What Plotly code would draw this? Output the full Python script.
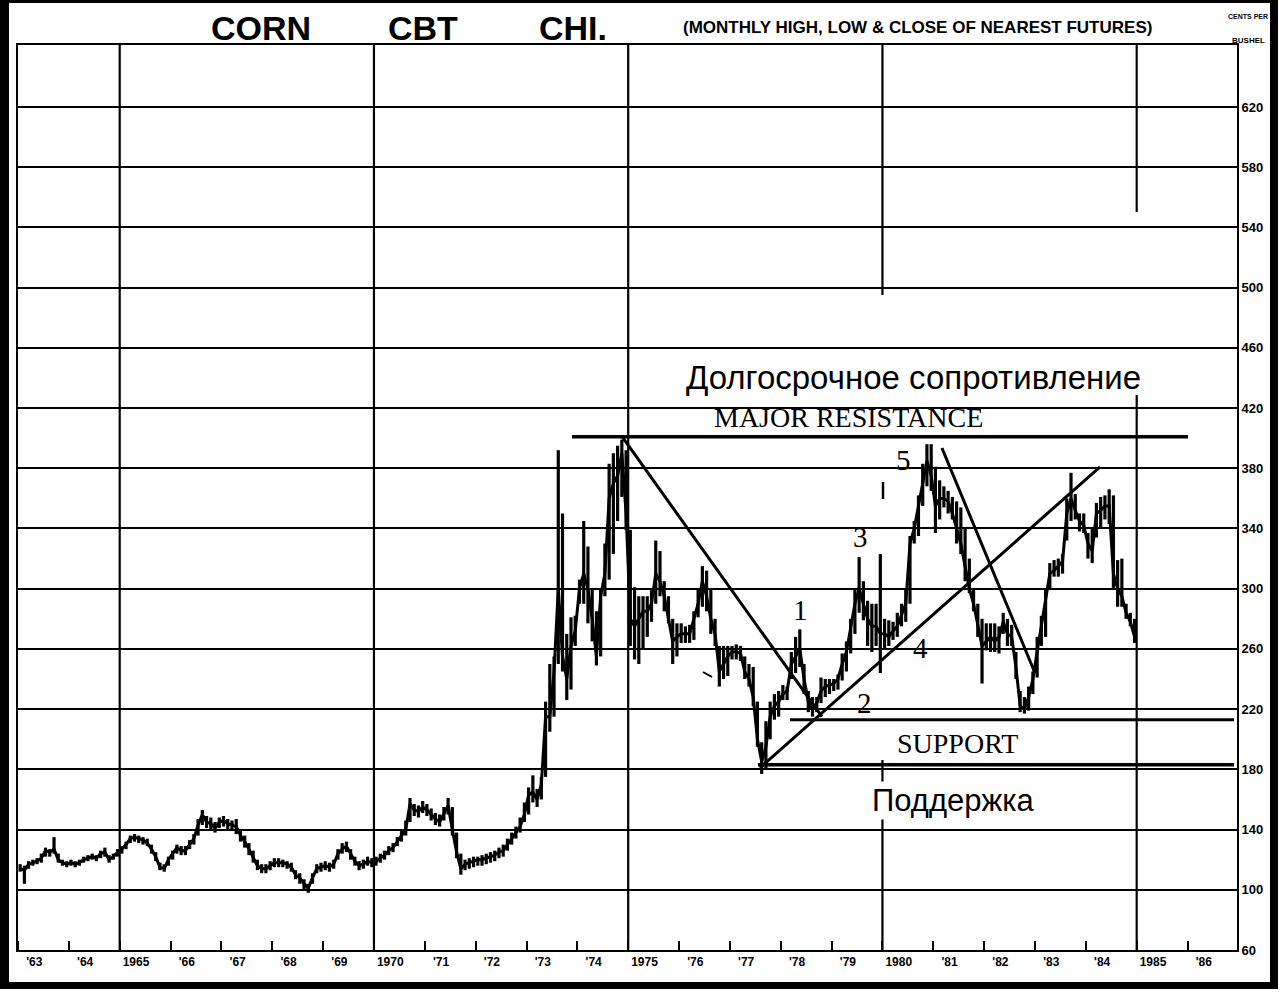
import plotly.graph_objects as go

# ---------------- data (monthly, Jan 1963 .. Dec 1984), cents per bushel -------------
START_YEAR = 1963
YEAR_LABELS = ["'63", "'64", "1965", "'66", "'67", "'68", "'69", "1970", "'71", "'72",
               "'73", "'74", "1975", "'76", "'77", "'78", "'79", "1980", "'81", "'82",
               "'83", "'84", "1985", "'86"]
PRICE_TICKS = [60, 100, 140, 180, 220, 260, 300, 340, 380, 420, 460, 500, 540, 580, 620]

LOW = [
    112, 104, 114, 116, 117, 118, 122, 122, 124, 118, 116, 115,   # 1963
    116, 115, 116, 118, 119, 120, 119, 121, 122, 118, 120, 122,   # 1964
    124, 127, 131, 132, 131, 130, 129, 124, 119, 113, 112, 116,   # 1965
    120, 124, 123, 123, 127, 130, 136, 143, 141, 140, 138, 141,   # 1966
    142, 140, 139, 137, 132, 128, 123, 118, 113, 111, 111, 113,   # 1967
    115, 115, 115, 114, 112, 107, 104, 100, 98, 104, 111, 112,    # 1968
    113, 112, 114, 120, 124, 125, 120, 116, 113, 114, 116, 115,   # 1969
    116, 118, 120, 123, 125, 129, 132, 136, 145, 149, 148, 151,   # 1970
    149, 146, 143, 142, 146, 150, 136, 121, 110, 113, 114, 115,   # 1971
    116, 116, 117, 118, 119, 121, 122, 126, 130, 134, 138, 145,   # 1972
    150, 158, 155, 160, 175, 205, 215, 250, 245, 226, 233, 262,   # 1973
    290, 290, 277, 265, 249, 255, 295, 306, 323, 345, 361, 339,   # 1974
    262, 253, 250, 260, 268, 278, 290, 295, 285, 277, 250, 255,   # 1975
    264, 264, 264, 266, 281, 288, 285, 270, 262, 235, 240, 242,   # 1976
    253, 253, 252, 240, 235, 222, 195, 177, 180, 200, 213, 215,   # 1977
    226, 226, 240, 244, 248, 230, 218, 215, 218, 224, 228, 230,   # 1978
    232, 233, 239, 245, 257, 270, 284, 279, 262, 258, 262, 244,   # 1979
    260, 262, 266, 268, 275, 278, 290, 330, 335, 355, 368, 365,   # 1980
    337, 346, 354, 350, 346, 330, 323, 305, 297, 285, 268, 237,   # 1981
    259, 258, 258, 257, 270, 262, 262, 240, 218, 217, 219, 230,   # 1982
    241, 262, 268, 300, 308, 308, 310, 332, 345, 346, 338, 337,   # 1983
    320, 317, 334, 340, 346, 343, 300, 288, 288, 280, 275, 264,   # 1984
]
HIGH = [
    117, 116, 119, 120, 121, 124, 128, 127, 135, 124, 120, 119,
    120, 119, 120, 122, 123, 124, 123, 126, 128, 123, 124, 127,
    129, 132, 136, 137, 136, 135, 134, 130, 125, 118, 117, 122,
    126, 130, 129, 129, 133, 137, 147, 153, 149, 148, 145, 148,
    149, 147, 146, 147, 140, 136, 131, 126, 120, 117, 117, 119,
    121, 121, 120, 119, 118, 113, 111, 107, 104, 111, 117, 118,
    119, 118, 120, 127, 131, 132, 127, 122, 119, 120, 122, 121,
    122, 124, 126, 129, 131, 135, 139, 146, 161, 157, 156, 159,
    157, 154, 151, 150, 155, 161, 155, 138, 124, 120, 121, 122,
    122, 123, 124, 125, 126, 128, 130, 134, 138, 142, 148, 158,
    168, 176, 167, 175, 225, 250, 255, 392, 350, 270, 281, 282,
    306, 345, 328, 300, 285, 300, 330, 383, 390, 395, 399, 392,
    339, 301, 295, 295, 295, 299, 332, 325, 305, 295, 280, 277,
    277, 275, 276, 285, 300, 315, 312, 300, 280, 262, 262, 262,
    262, 263, 262, 255, 250, 248, 225, 198, 212, 225, 230, 232,
    236, 235, 258, 268, 273, 250, 232, 228, 228, 241, 240, 240,
    240, 243, 257, 265, 280, 300, 321, 305, 292, 290, 290, 323,
    280, 279, 278, 284, 290, 300, 335, 345, 362, 383, 396, 396,
    381, 372, 368, 365, 361, 358, 354, 340, 320, 300, 290, 280,
    277, 277, 277, 275, 284, 280, 276, 258, 232, 228, 235, 245,
    268, 282, 300, 317, 319, 320, 323, 360, 377, 363, 350, 350,
    337, 340, 357, 361, 362, 366, 362, 319, 320, 290, 284, 280,
]
CLOSE = [
    114, 113, 117, 118, 119, 121, 126, 125, 127, 120, 118, 117,
    118, 117, 118, 120, 121, 122, 121, 124, 125, 120, 122, 125,
    127, 130, 134, 135, 134, 133, 131, 127, 122, 115, 114, 120,
    124, 128, 126, 126, 130, 134, 143, 150, 145, 144, 141, 145,
    146, 144, 143, 142, 136, 132, 127, 122, 116, 114, 114, 116,
    118, 118, 118, 117, 115, 110, 108, 104, 101, 108, 114, 115,
    116, 115, 117, 124, 127, 129, 124, 119, 116, 117, 119, 118,
    119, 121, 123, 126, 128, 132, 136, 140, 157, 153, 152, 155,
    153, 150, 147, 145, 150, 156, 140, 125, 114, 117, 118, 119,
    120, 120, 121, 122, 123, 125, 126, 130, 134, 138, 142, 150,
    163, 165, 160, 170, 215, 215, 245, 300, 255, 240, 262, 272,
    300, 310, 300, 280, 255, 295, 310, 360, 370, 375, 390, 350,
    280, 275, 280, 285, 285, 290, 310, 305, 295, 280, 265, 268,
    270, 270, 270, 280, 290, 305, 295, 280, 270, 245, 250, 255,
    258, 258, 257, 245, 240, 228, 200, 185, 195, 215, 222, 225,
    230, 232, 250, 255, 260, 240, 225, 220, 224, 232, 235, 236,
    237, 240, 250, 258, 275, 290, 300, 290, 280, 275, 275, 270,
    270, 268, 272, 275, 282, 290, 330, 340, 355, 370, 385, 375,
    355, 360, 360, 358, 350, 340, 330, 315, 300, 290, 275, 262,
    265, 268, 265, 268, 278, 270, 268, 248, 222, 220, 228, 240,
    258, 275, 290, 310, 312, 315, 318, 350, 360, 352, 345, 342,
    330, 325, 350, 352, 355, 355, 310, 300, 295, 284, 278, 268,
]

# chart annotation levels (cents) and trend lines ((year, cents) pairs)
RESISTANCE = 401
SUPPORT_UPPER = 213
SUPPORT_LOWER = 183
TREND_DOWN_1 = [(1974.88, 401), (1978.81, 215)]
TREND_DOWN_2 = [(1981.17, 393.5), (1983.0, 244)]
TREND_UP = [(1977.59, 181), (1984.28, 381)]
VGRID_YEARS = [1965, 1970, 1975, 1980, 1985]

# ---------------- layout geometry ----------------
W, H = 1286, 994
PL, PR, PT, PB = 18, 1237, 45, 950          # plot area in pixels
X_RANGE = [1963.0, 1963.0 + (PR - PL) / 50.85]
Y_RANGE = [60, 60 + (PB - PT) / 1.5054]


def px(x):
    return (x - PL) / (PR - PL)


def py(y):
    return (PB - y) / (PB - PT)


def t_of(x):
    return X_RANGE[0] + (x - PL) / (PR - PL) * (X_RANGE[1] - X_RANGE[0])


def v_of(y):
    return Y_RANGE[0] + (PB - y) / (PB - PT) * (Y_RANGE[1] - Y_RANGE[0])


months = [START_YEAR + (i + 0.5) / 12 for i in range(len(CLOSE))]
bx, by = [], []
for t, lo, hi in zip(months, LOW, HIGH):
    bx += [t, t, None]
    by += [lo, hi, None]

fig = go.Figure()
fig.add_trace(go.Scatter(x=bx, y=by, mode="lines", line=dict(color="black", width=3.2),
                         hoverinfo="skip", showlegend=False))
fig.add_trace(go.Scatter(x=months, y=CLOSE, mode="lines", line=dict(color="black", width=3),
                         showlegend=False))

shapes = []
# vertical gridlines (segments; some interrupted in original)
vgaps = {1980: [(PT, 295), (760, PB)], 1985: [(PT, 212), (395, PB)]}
for yr in VGRID_YEARS:
    segs = vgaps.get(yr, [(PT, PB)])
    for ya, yb in segs:
        shapes.append(dict(type="line", xref="x", yref="y", x0=yr, x1=yr, y0=v_of(yb), y1=v_of(ya),
                           line=dict(color="black", width=2.2), layer="below"))

# white patches interrupting horizontal gridlines (below traces)
for (xa, xb, ya, yb) in [(578, 1032, 398, 420), (860, 1098, 458, 478), (825, 892, 518, 538),
                         (880, 945, 638, 658), (840, 900, 698, 718)]:
    shapes.append(dict(type="rect", xref="paper", yref="paper", x0=px(xa), x1=px(xb),
                       y0=py(yb), y1=py(ya), fillcolor="white", line=dict(width=0), layer="between"))

# support / resistance / trend lines
shapes.append(dict(type="line", xref="x", yref="y", x0=t_of(572), x1=t_of(1188),
                   y0=RESISTANCE, y1=RESISTANCE, line=dict(color="black", width=3.5)))
shapes.append(dict(type="line", xref="x", yref="y", x0=t_of(790), x1=t_of(1234),
                   y0=SUPPORT_UPPER, y1=SUPPORT_UPPER, line=dict(color="black", width=3)))
shapes.append(dict(type="line", xref="x", yref="y", x0=t_of(758), x1=t_of(1234),
                   y0=SUPPORT_LOWER, y1=SUPPORT_LOWER, line=dict(color="black", width=3.5)))
for seg in (TREND_DOWN_1, TREND_DOWN_2, TREND_UP):
    shapes.append(dict(type="line", xref="x", yref="y", x0=seg[0][0], y0=seg[0][1],
                       x1=seg[1][0], y1=seg[1][1], line=dict(color="black", width=3)))
# small marks
shapes.append(dict(type="line", xref="paper", yref="paper", x0=px(883), x1=px(883),
                   y0=py(499), y1=py(482), line=dict(color="black", width=2.5)))
shapes.append(dict(type="line", xref="paper", yref="paper", x0=px(703), x1=px(712),
                   y0=py(672), y1=py(677), line=dict(color="black", width=2)))

# outer frame
frame = [(0, 9, 0, 989), (0, 1278, 982, 989), (1270, 1278, 0, 989), (0, 1278, 0, 3)]
for xa, xb, ya, yb in frame:
    shapes.append(dict(type="rect", xref="paper", yref="paper", x0=px(xa), x1=px(xb),
                       y0=py(yb), y1=py(ya), fillcolor="black", line=dict(width=0)))

NARROW = "Liberation Sans Narrow, Arial Narrow, Liberation Sans, sans-serif"
annotations = []


def txt(x, y, s, size, family, weight="normal", bg=None):
    a = dict(xref="paper", yref="paper", x=px(x), y=py(y), text=s, showarrow=False,
             xanchor="center", yanchor="middle",
             font=dict(size=size, family=family, color="black", weight=weight))
    if bg:
        a["bgcolor"] = bg
    annotations.append(a)


txt(261, 28, "CORN", 34, "Liberation Sans, Arial, sans-serif", "bold")
txt(423, 28, "CBT", 34, "Liberation Sans, Arial, sans-serif", "bold")
txt(573, 28, "CHI.", 34, "Liberation Sans, Arial, sans-serif", "bold")
txt(917, 28, "(MONTHLY HIGH, LOW &amp; CLOSE OF NEAREST FUTURES)", 17, NARROW, "bold")
txt(1248, 17, "CENTS PER", 7, NARROW, "bold")
txt(1248, 41, "BUSHEL", 8, NARROW, "bold")

txt(913, 377, "Долгосрочное сопротивление", 33, "Liberation Sans, Arial, sans-serif")
txt(848, 417, "MAJOR RESISTANCE", 28, "Liberation Serif, Times New Roman, serif")
txt(957, 743, "SUPPORT", 28, "Liberation Serif, Times New Roman, serif")
txt(953, 800, "Поддержка", 31, "Liberation Sans, Arial, sans-serif", bg="white")
for s, x, y in [("1", 800, 610), ("2", 865, 703), ("3", 860, 537), ("4", 920, 648), ("5", 903, 460)]:
    txt(x, y, s, 29, "Liberation Serif, Times New Roman, serif")

fig.update_layout(
    width=W, height=H,
    margin=dict(l=PL, r=W - PR, t=PT, b=H - PB, pad=0),
    paper_bgcolor="white", plot_bgcolor="white",
    shapes=shapes, annotations=annotations, showlegend=False,
    xaxis=dict(range=X_RANGE, showgrid=False, zeroline=False,
               tickvals=[START_YEAR + i + 0.32 for i in range(len(YEAR_LABELS))],
               ticktext=YEAR_LABELS, ticks="", tickangle=0,
               tickfont=dict(size=12, family=NARROW, color="black", weight="bold"),
               showline=True, linecolor="black", linewidth=2, mirror=True,
               minor=dict(ticks="inside", ticklen=9, tickwidth=2, tickcolor="black",
                          dtick=1, tick0=START_YEAR, showgrid=False)),
    yaxis=dict(range=Y_RANGE, side="right", tickvals=PRICE_TICKS,
               ticktext=[str(v) for v in PRICE_TICKS], ticks="",
               showgrid=True, gridcolor="black", gridwidth=2, zeroline=False,
               tickfont=dict(size=13, family=NARROW, color="black", weight="bold"),
               showline=True, linecolor="black", linewidth=2, mirror=True),
)

fig.write_html("out.html", config={"displayModeBar": False},
               post_script="document.body.style.margin='0px';")
